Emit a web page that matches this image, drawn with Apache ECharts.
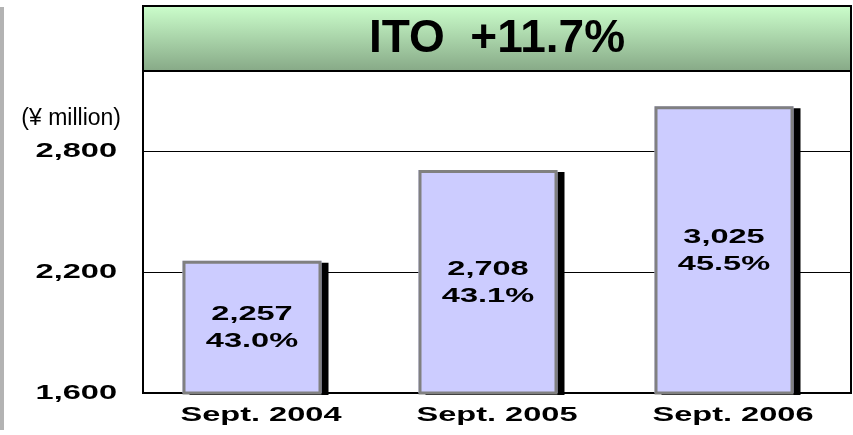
<!DOCTYPE html>
<html>
<head>
<meta charset="utf-8">
<script src="https://cdn.jsdelivr.net/npm/echarts@6/dist/echarts.min.js"></script>
<style>
    html, body { margin: 0; padding: 0; background: #fff; }
    #chart { width: 853px; height: 435px; }
</style>
</head>
<body>
<div id="chart"></div>
<script>
// 資料
const categories = ['Sept. 2004', 'Sept. 2005', 'Sept. 2006'];
const sales = [2257, 2708, 3025];
const shares = ['43.0%', '43.1%', '45.5%'];
const yTicks = { min: 1600, max: 3200, interval: 600 };
const titleText = 'ITO  +11.7%';
const unitText = '(¥ million)';

// 粗體標籤在原圖中被橫向拉寬，這裡用 21px 當作標記
const wideSize = 21;
const wideScale = 1.55;
const origFillText = CanvasRenderingContext2D.prototype.fillText;
CanvasRenderingContext2D.prototype.fillText = function (text, x, y, maxWidth) {
    if (this.font.indexOf('bold') !== -1 && this.font.indexOf(wideSize + 'px') !== -1) {
        this.save();
        this.translate(x, y);
        this.scale(wideScale, 1);
        origFillText.call(this, text, 0, 0);
        this.restore();
        return;
    }
    return maxWidth === undefined
        ? origFillText.call(this, text, x, y)
        : origFillText.call(this, text, x, y, maxWidth);
};

const fontFamily = 'Liberation Sans';
const wideLabel = {
    color: '#000',
    fontSize: wideSize,
    fontWeight: 'bold',
    fontFamily: fontFamily
};

const chart = echarts.init(document.getElementById('chart'), null, { renderer: 'canvas' });

const option = {
    animation: false,
    backgroundColor: '#fff',
    graphic: [
        // 左側灰色條
        {
            type: 'rect',
            shape: { x: 0, y: 7, width: 4, height: 423 },
            style: { fill: '#b3b3b3' },
            z: 10
        },
        // 標題框
        {
            type: 'rect',
            shape: { x: 143, y: 6, width: 708, height: 65 },
            style: {
                fill: new echarts.graphic.LinearGradient(0, 0, 0, 1, [
                    { offset: 0, color: '#ccffcc' },
                    { offset: 1, color: '#86a886' }
                ]),
                stroke: '#000',
                lineWidth: 2
            },
            z: 10
        },
        {
            type: 'text',
            x: 497,
            y: 39,
            style: {
                text: titleText,
                font: 'bold 46px "Liberation Sans", Arial, sans-serif',
                fill: '#000',
                align: 'center',
                verticalAlign: 'middle'
            },
            z: 11
        }
    ],
    grid: [
        // 外框 + 座標軸
        { left: 143, right: 2, top: 71, bottom: 42, show: true, borderColor: '#000', borderWidth: 2, backgroundColor: 'transparent' },
        // 長條 (略偏左)
        { left: 134, right: 11, top: 71, bottom: 42 }
    ],
    xAxis: [
        {
            type: 'category',
            gridIndex: 0,
            data: categories,
            axisLine: { lineStyle: { color: '#000', width: 2 } },
            axisTick: { inside: true, length: 6, lineStyle: { color: '#000', width: 2 } },
            axisLabel: Object.assign({ margin: 12 }, wideLabel)
        },
        {
            type: 'category',
            gridIndex: 1,
            data: categories,
            show: false
        }
    ],
    yAxis: [
        {
            type: 'value',
            gridIndex: 0,
            min: yTicks.min,
            max: yTicks.max,
            interval: yTicks.interval,
            name: unitText,
            nameLocation: 'end',
            nameGap: -48,
            nameTextStyle: {
                color: '#000',
                fontSize: 23,
                fontFamily: fontFamily,
                align: 'right',
                verticalAlign: 'middle',
                padding: [0, 22, 0, 0]
            },
            axisLine: { show: false },
            axisTick: { show: false },
            splitLine: { lineStyle: { color: '#000', width: 1 } },
            axisLabel: Object.assign({
                margin: 26,
                padding: [4, 0, 0, 0],
                showMaxLabel: false,
                formatter: v => v.toLocaleString('en-US')
            }, wideLabel)
        },
        {
            type: 'value',
            gridIndex: 1,
            min: yTicks.min,
            max: yTicks.max,
            interval: yTicks.interval,
            show: false
        }
    ],
    series: [
        // 填色 + 黑色陰影
        {
            type: 'bar',
            xAxisIndex: 1,
            yAxisIndex: 1,
            data: sales,
            barWidth: 139,
            z: 4,
            silent: true,
            itemStyle: {
                color: '#ccccff',
                shadowColor: '#000',
                shadowBlur: 0,
                shadowOffsetX: 7,
                shadowOffsetY: 2
            }
        },
        // 灰色外框 + 數值
        {
            type: 'bar',
            xAxisIndex: 1,
            yAxisIndex: 1,
            data: sales,
            barWidth: 139,
            barGap: '-100%',
            z: 5,
            itemStyle: {
                color: 'transparent',
                borderColor: '#808080',
                borderWidth: 3
            },
            label: Object.assign({
                show: true,
                position: 'inside',
                lineHeight: 27,
                padding: [4, 0, 0, 0],
                formatter: p => p.value.toLocaleString('en-US') + '\n' + shares[p.dataIndex]
            }, wideLabel)
        }
    ]
};

chart.setOption(option);
</script>
</body>
</html>
